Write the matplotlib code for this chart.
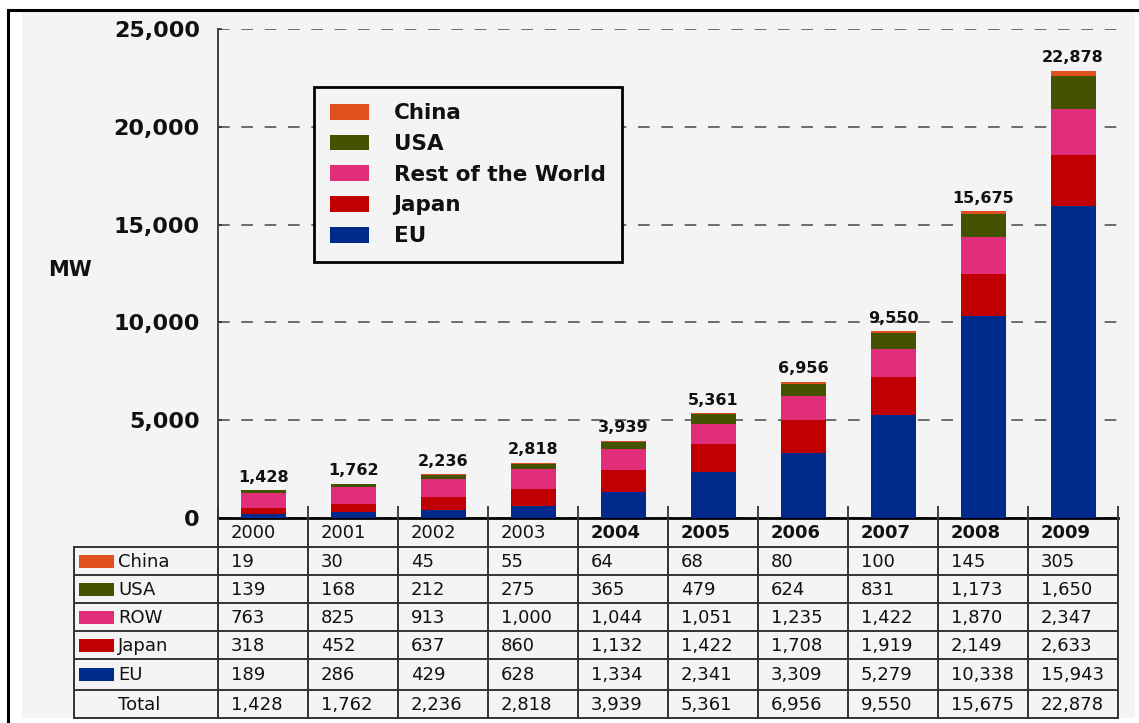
import numpy as np
import matplotlib
matplotlib.use("Agg")
import matplotlib.pyplot as plt
from matplotlib.patches import Rectangle, Patch
from matplotlib.lines import Line2D
from matplotlib.ticker import FuncFormatter

# Data (MW)
years = ["2000", "2001", "2002", "2003", "2004", "2005", "2006", "2007", "2008", "2009"]
bold_years = ["2004", "2005", "2006", "2007", "2008", "2009"]
china = [19, 30, 45, 55, 64, 68, 80, 100, 145, 305]
usa = [139, 168, 212, 275, 365, 479, 624, 831, 1173, 1650]
row = [763, 825, 913, 1000, 1044, 1051, 1235, 1422, 1870, 2347]
japan = [318, 452, 637, 860, 1132, 1422, 1708, 1919, 2149, 2633]
eu = [189, 286, 429, 628, 1334, 2341, 3309, 5279, 10338, 15943]
totals = [1428, 1762, 2236, 2818, 3939, 5361, 6956, 9550, 15675, 22878]

c_china = "#e0501e"
c_usa = "#435300"
c_row = "#e02e7a"
c_japan = "#c00000"
c_eu = "#002a8c"
bg = "#f4f4f4"
ink = "#111111"

W, H = 1139, 723
fig = plt.figure(figsize=(W / 100, H / 100), dpi=100)
fig.patch.set_facecolor("white")

# grey panel and black frame lines
fig.patches.append(Rectangle((22 / W, 1 - 718 / H), (1135 - 22) / W, (718 - 12) / H,
                             transform=fig.transFigure, facecolor=bg, edgecolor="none", zorder=-10))
fig.lines.append(Line2D([8 / W, 8 / W], [0, 1 - 10 / H], transform=fig.transFigure, color="black", lw=2.2))
fig.lines.append(Line2D([8 / W, 1], [1 - 10 / H, 1 - 10 / H], transform=fig.transFigure, color="black", lw=2.2))

# bar chart
ax = fig.add_axes([218 / W, 1 - 518 / H, 900 / W, 489 / H])
ax.set_facecolor("none")
x = np.arange(len(years))
bottom = np.zeros(len(years))
for vals, col in [(eu, c_eu), (japan, c_japan), (row, c_row), (usa, c_usa), (china, c_china)]:
    ax.bar(x, vals, width=0.5, bottom=bottom, color=col, zorder=3)
    bottom += np.array(vals)

for xi, t in zip(x, totals):
    ax.annotate(f"{t:,}", (xi, t), xytext=(0, 4), textcoords="offset points",
                ha="center", va="bottom", fontsize=11.5, fontweight="bold", color=ink, zorder=4)

ax.set_xlim(-0.5, len(years) - 0.5)
ax.set_ylim(0, 25000)
ax.set_yticks(np.arange(0, 25001, 5000))
ax.yaxis.set_major_formatter(FuncFormatter(lambda v, p: f"{int(v):,}"))
ax.set_xticks(np.arange(-0.5, len(years), 1))
ax.set_xticklabels([])
ax.tick_params(axis="x", direction="in", length=8.5, width=1.3, color="#333333")
ax.tick_params(axis="y", direction="in", length=3, width=1.2, color="#333333", pad=13,
               labelsize=16, labelcolor=ink)
for lab in ax.get_yticklabels():
    lab.set_fontweight("bold")
ax.yaxis.grid(True, linestyle=(0, (7, 7)), linewidth=1.2, color="#555555", zorder=0)
ax.set_axisbelow(True)
for s in ["top", "right"]:
    ax.spines[s].set_visible(False)
ax.spines["left"].set_color("#333333")
ax.spines["left"].set_linewidth(1.3)
ax.spines["bottom"].set_color("black")
ax.spines["bottom"].set_linewidth(2)

fig.text(48 / W, 1 - 270 / H, "MW", fontsize=15, fontweight="bold", color=ink, va="center", ha="left")

handles = [Patch(facecolor=c) for c in [c_china, c_usa, c_row, c_japan, c_eu]]
leg = ax.legend(handles, ["China", "USA", "Rest of the World", "Japan", "EU"],
                loc="upper left", bbox_to_anchor=(314 / W, 1 - 87 / H), bbox_transform=fig.transFigure,
                prop={"size": 15.5, "weight": "bold"}, fancybox=False, framealpha=1, facecolor=bg,
                edgecolor="black", borderpad=0.75, handlelength=1.8, handleheight=0.75,
                handletextpad=1.15, labelspacing=0.5, borderaxespad=0)
leg.get_frame().set_linewidth(2)
for t in leg.get_texts():
    t.set_color(ink)

# data table below the bars (y in pixel rows)
tab = fig.add_axes([218 / W, 1 - 718 / H, 900 / W, 200 / H])
tab.set_xlim(-0.5, len(years) - 0.5)
tab.set_ylim(718, 518)
tab.axis("off")
col_w = 90.0
to_x = lambda px: -0.5 + (px - 218) / col_w
edges = [518, 547, 575, 603, 631, 659, 690, 718]
lc = "#333333"
lw = 1.4
xl = to_x(74)
for yy in edges[1:]:
    tab.plot([xl, len(years) - 0.5], [yy, yy], color=lc, lw=lw, clip_on=False, solid_capstyle="butt")
for k in range(len(years) + 1):
    tab.plot([k - 0.5, k - 0.5], [518, 718], color=lc, lw=lw, clip_on=False)
tab.plot([xl, xl], [547, 718], color=lc, lw=lw, clip_on=False)

def cy(i):
    return (edges[i] + edges[i + 1]) / 2

for k, yr in enumerate(years):
    tab.text(k - 0.5 + 13 / col_w, cy(0) + 1, yr, fontsize=13, va="center", ha="left", color=ink,
             fontweight="bold" if yr in bold_years else "normal")

rows = [("China", china, c_china), ("USA", usa, c_usa), ("ROW", row, c_row),
        ("Japan", japan, c_japan), ("EU", eu, c_eu), ("Total", totals, None)]
for i, (name, vals, col) in enumerate(rows, start=1):
    yc = cy(i)
    if col is not None:
        tab.add_patch(Rectangle((to_x(79), yc - 6.5), (114 - 79) / col_w, 13, facecolor=col,
                                edgecolor="none", clip_on=False))
    tab.text(to_x(118), yc + 1, name, fontsize=13, va="center", ha="left", color=ink)
    for k, v in enumerate(vals):
        tab.text(k - 0.5 + 13 / col_w, yc + 1, f"{v:,}", fontsize=13, va="center", ha="left", color=ink)

fig.savefig("out.png", dpi=100, facecolor=fig.get_facecolor())
